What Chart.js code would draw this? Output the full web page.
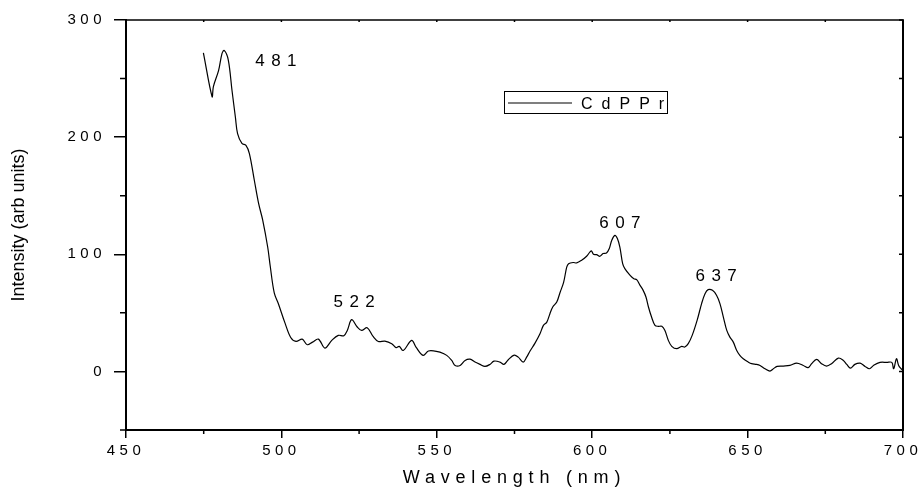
<!DOCTYPE html>
<html>
<head>
<meta charset="utf-8">
<title>CdPPr emission spectrum</title>
<script src="https://cdn.jsdelivr.net/npm/chart.js@4.4.1/dist/chart.umd.min.js"></script>
<style>
  html, body { margin: 0; padding: 0; background: #fff; }
</style>
</head>
<body>
<canvas id="chart" width="920" height="489"></canvas>
<script>
// Emission spectrum of CdPPr
const wavelengths = [
  474.9, 477.7, 478.1, 479.8, 480.9, 481.6, 482.9, 484.1, 485.2, 485.9,
  487.3, 488.6, 489.7, 491.3, 492.7, 494.0, 495.6, 496.4, 497.7, 499.0,
  501.2, 503.0, 504.7, 506.7, 508.3, 510.0, 511.9, 514.0, 516.2, 518.3,
  520.1, 521.2, 522.6, 524.4, 525.8, 527.6, 529.5, 531.2, 533.3, 535.5,
  536.9, 537.9, 539.2, 541.9, 543.3, 545.6, 547.3, 549.4, 551.0, 553.2,
  554.8, 555.9, 557.5, 559.1, 560.7, 562.3, 563.9, 565.5, 567.1, 568.4,
  570.3, 571.6, 573.0, 574.9, 576.2, 577.8, 578.9, 580.0, 581.6, 583.2,
  584.3, 585.4, 586.4, 587.3, 588.6, 589.6, 590.8, 591.8, 592.4, 593.9,
  595.0, 596.6, 598.2, 599.3, 599.8, 600.4, 601.4, 602.5, 603.5, 604.6,
  605.5, 606.3, 607.3, 608.1, 608.9, 609.8, 610.5, 612.2, 613.4, 614.3,
  615.4, 616.4, 617.3, 618.1, 619.1, 620.2, 621.3, 622.4, 623.4, 624.5,
  625.6, 627.2, 628.8, 629.8, 630.9, 632.2, 633.8, 635.2, 636.3, 637.3,
  638.7, 640.0, 641.1, 642.2, 643.3, 644.3, 645.4, 646.5, 647.5, 648.6,
  650.2, 651.3, 652.9, 654.0, 655.6, 657.2, 658.3, 659.5, 661.5, 663.6,
  665.8, 667.9, 669.5, 670.6, 672.2, 673.8, 675.4, 677.0, 679.2, 680.8,
  681.9, 683.1, 684.5, 686.2, 687.8, 689.2, 690.5, 692.6, 694.8, 696.4,
  697.0, 697.9, 698.6, 699.4, 700.0
];
const intensities = [
  272, 234.5, 243, 257, 271.5, 274, 266, 240, 217, 203,
  194.6, 193, 186, 163, 143, 129, 106, 90, 67, 58,
  41, 29, 25.6, 27.6, 22.8, 25, 27.6, 19.9, 26.5, 30.8,
  30.5, 35, 44.2, 37.9, 35, 37.3, 29.9, 25.6, 25.9, 23.7,
  20.3, 21.4, 17.9, 26.5, 20.8, 13.7, 17.4, 17.4, 16.5, 13.7,
  9.4, 5.1, 5.1, 9.4, 10.5, 8, 6, 4.3, 6, 8.8,
  8, 6, 10, 13.9, 12.2, 8, 12.2, 17.4, 24.2, 32.2,
  39.3, 42.1, 49.3, 55, 59.2, 67, 76, 89, 92, 93,
  92.6, 94.9, 98.3, 102, 102.8, 100, 99.7, 98.3, 100.6, 101.1,
  104.9, 112, 116.2, 113.4, 106.2, 92, 87.8, 82, 79.2, 78.4,
  73.5, 69.2, 63.5, 55, 46.4, 39.3, 38.5, 38.5, 35, 26.5,
  21.4, 19.4, 21.4, 20.8, 23.7, 31, 44, 57.9, 66.4, 69.8,
  69.2, 65, 57.9, 46.4, 35, 29.3, 25, 17.9, 13.7, 10.8,
  8, 6.6, 6, 5.1, 2.3, 0.3, 2.3, 4.3, 4.6, 5.1,
  7.1, 5.1, 3.2, 6.6, 10.3, 6.6, 4.6, 6.6, 11.4, 9.4,
  6, 2.8, 6, 7.1, 4.3, 2.3, 5.1, 7.7, 7.7, 7.7,
  2.3, 10.8, 5.1, 2.3, 1
];
const seriesName = 'CdPPr';
const peakLabels = ['481', '522', '607', '637'];

const xTicks = [450, 500, 550, 600, 650, 700];
const xMinorTicks = [475, 525, 575, 625, 675];
const yTicks = [0, 100, 200, 300];
const yMinorTicks = [-50, 50, 150, 250];

const FONT = '"Liberation Sans", Arial, Helvetica, sans-serif';

// canvas letterSpacing around one of a scale's draw steps
function withSpacing(scale, method, spacing) {
  const orig = scale[method];
  scale[method] = function (...args) {
    const ctx = this.ctx;
    const prev = ctx.letterSpacing;
    ctx.letterSpacing = spacing + 'px';
    orig.apply(this, args);
    ctx.letterSpacing = prev;
  };
}

const spacedText = {
  id: 'spacedText',
  beforeDraw(chart) {
    if (chart.$spaced) return;
    withSpacing(chart.scales.x, 'drawLabels', 4.5);
    withSpacing(chart.scales.x, 'drawTitle', 5.8);
    withSpacing(chart.scales.y, 'drawLabels', 4.5);
    chart.$spaced = true;
  }
};

// top/right frame lines plus the short ticks Chart.js has no option for
const frame = {
  id: 'frame',
  afterDraw(chart) {
    const { ctx, chartArea: a, scales: { x, y } } = chart;
    ctx.save();
    ctx.strokeStyle = '#000';
    ctx.lineWidth = 1.5;
    ctx.beginPath();
    ctx.moveTo(a.left, a.top);
    ctx.lineTo(a.right + 1, a.top);
    ctx.stroke();
    ctx.lineWidth = 2;
    ctx.beginPath();
    ctx.moveTo(a.right, a.top);
    ctx.lineTo(a.right, a.bottom + 1);
    ctx.stroke();

    ctx.lineWidth = 1.5;
    ctx.beginPath();
    xMinorTicks.forEach(v => {
      const px = x.getPixelForValue(v);
      ctx.moveTo(px, a.bottom);
      ctx.lineTo(px, a.bottom + 4);
    });
    yMinorTicks.forEach(v => {
      const py = y.getPixelForValue(v);
      ctx.moveTo(a.left, py);
      ctx.lineTo(a.left - 6, py);
    });
    yTicks.concat(yMinorTicks).forEach(v => {
      const py = y.getPixelForValue(v);
      ctx.moveTo(a.right, py);
      ctx.lineTo(a.right - 4, py);
    });
    xTicks.concat(xMinorTicks).forEach(v => {
      const px = x.getPixelForValue(v);
      ctx.moveTo(px, a.top);
      ctx.lineTo(px, a.top + 2);
    });
    ctx.stroke();
    ctx.restore();
  }
};

// boxed legend sitting inside the plot
const boxLegend = {
  id: 'boxLegend',
  afterDraw(chart) {
    const { ctx, chartArea: a } = chart;
    const ds = chart.data.datasets[0];
    const left = a.left + 378, top = a.top + 71, w = 163, h = 22;
    ctx.save();
    ctx.strokeStyle = '#000';
    ctx.lineWidth = 1;
    ctx.strokeRect(left + 0.5, top + 0.5, w, h);
    ctx.strokeStyle = ds.borderColor;
    ctx.lineWidth = ds.borderWidth;
    ctx.beginPath();
    ctx.moveTo(left + 4, top + 12);
    ctx.lineTo(left + 68, top + 12);
    ctx.stroke();
    ctx.fillStyle = '#000';
    ctx.font = '16px ' + FONT;
    ctx.letterSpacing = '9px';
    ctx.textBaseline = 'alphabetic';
    ctx.fillText(ds.label, left + 77, top + 17.5);
    ctx.restore();
  }
};

// peak wavelength labels placed next to the local maximum of the trace
const peakNotes = {
  id: 'peakNotes',
  afterDraw(chart, args, opts) {
    const { ctx, scales: { x, y } } = chart;
    ctx.save();
    ctx.fillStyle = '#000';
    ctx.font = '17px ' + FONT;
    ctx.letterSpacing = '6.5px';
    ctx.textBaseline = 'alphabetic';
    peakLabels.forEach((label, i) => {
      const wl = Number(label);
      let best = -Infinity, bestWl = wl;
      wavelengths.forEach((w, j) => {
        if (Math.abs(w - wl) <= 2 && intensities[j] > best) { best = intensities[j]; bestWl = w; }
      });
      const off = opts.offsets[i];
      const px = x.getPixelForValue(bestWl) + off[0];
      const py = y.getPixelForValue(best) + off[1];
      ctx.textAlign = off[2];
      ctx.fillText(label, off[2] === 'center' ? px + 3.25 : px, py);
    });
    ctx.restore();
  }
};

const points = wavelengths.map((w, i) => ({ x: w, y: intensities[i] }));

new Chart(document.getElementById('chart'), {
  type: 'scatter',
  data: {
    datasets: [{
      label: seriesName,
      data: points,
      showLine: true,
      borderColor: '#000',
      borderWidth: 1.2,
      pointRadius: 0,
      tension: 0.35,
      fill: false
    }]
  },
  options: {
    responsive: false,
    animation: false,
    layout: { padding: { top: 20, right: 17, left: 0, bottom: 0 } },
    plugins: {
      legend: { display: false },
      tooltip: { enabled: false },
      peakNotes: {
        offsets: [[31, 16, 'left'], [2.5, -13, 'center'], [5, -7, 'center'], [8, -9, 'center']]
      }
    },
    scales: {
      x: {
        type: 'linear',
        position: 'bottom',
        min: 450,
        max: 700,
        afterBuildTicks: s => { s.ticks = xTicks.map(v => ({ value: v })); },
        afterFit: s => { s.height = 59; },
        ticks: { color: '#000', padding: 4, font: { family: FONT, size: 15 } },
        grid: { drawOnChartArea: false, drawTicks: true, tickLength: 8, color: '#000', lineWidth: 1.5 },
        border: { display: true, color: '#000', width: 2 },
        title: {
          display: true,
          text: 'Wavelength (nm)',
          color: '#000',
          padding: 0,
          font: { family: FONT, size: 18 }
        }
      },
      y: {
        type: 'linear',
        position: 'left',
        min: -50,
        max: 300,
        afterBuildTicks: s => { s.ticks = yTicks.map(v => ({ value: v })); },
        afterFit: s => { s.width = 126; },
        ticks: { color: '#000', padding: 8, font: { family: FONT, size: 15 } },
        grid: { drawOnChartArea: false, drawTicks: true, tickLength: 12, color: '#000', lineWidth: 1.5 },
        border: { display: true, color: '#000', width: 2 },
        title: {
          display: true,
          text: 'Intensity (arb units)',
          color: '#000',
          padding: { top: 8, bottom: 0 },
          font: { family: FONT, size: 18 }
        }
      }
    }
  },
  plugins: [spacedText, frame, boxLegend, peakNotes]
});
</script>
</body>
</html>
